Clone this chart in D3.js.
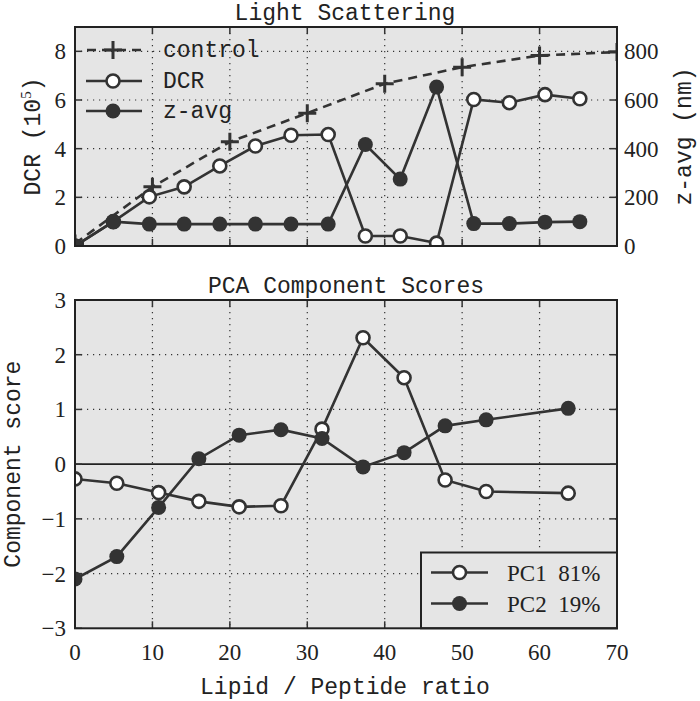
<!DOCTYPE html>
<html><head><meta charset="utf-8">
<script src="https://cdn.jsdelivr.net/npm/d3@7"></script>
<style>body{margin:0;background:#fff}</style>
</head><body><svg id="c" width="700" height="701"></svg>
<script>
// ---- data ----
const controlX = [0,10,20,30,40,50,60,70];
const controlY = [0.1,2.43,4.28,5.46,6.67,7.35,7.83,7.97];
const lsX  = [0,4.95,9.6,14.1,18.7,23.3,27.9,32.7,37.5,42,46.7,51.5,56.1,60.7,65.2];
const dcrY = [0,1.0,2.02,2.43,3.29,4.11,4.55,4.58,0.41,0.41,0.12,6.02,5.89,6.22,6.05];
const zavgY= [0,100,90,90,90,90,90,90,417,275,653,92,92,98,100];
const pcaX = [0,5.4,10.8,16.0,21.2,26.6,31.9,37.2,42.5,47.8,53.1,63.7];
const pc1  = [-0.27,-0.35,-0.52,-0.68,-0.78,-0.76,0.64,2.31,1.58,-0.29,-0.5,-0.53];
const pc2  = [-2.1,-1.69,-0.79,0.1,0.53,0.63,0.47,-0.05,0.21,0.70,0.81,1.02];
const xTicks = [0,10,20,30,40,50,60,70];
const dcrTicks = [0,2,4,6,8];
const zTicks = [0,200,400,600,800];
const pcaTicks = [-3,-2,-1,0,1,2,3];
const topLegend = ["control","DCR","z-avg"];
const pcaLegend = ["PC1 81%","PC2 19%"];

const svg = d3.select("#c");
const ink = "#333";
const serif = "'Liberation Serif','DejaVu Serif',serif";
const mono = "'Liberation Mono','DejaVu Sans Mono',monospace";
const MS = 23;
const L = 75, R = 617;
const x = d3.scaleLinear().domain([0,70]).range([L,R]);

function panel(id, top, bottom){
  svg.append("rect").attr("x",L).attr("y",top).attr("width",R-L).attr("height",bottom-top).attr("fill","#e5e5e5");
  svg.append("clipPath").attr("id",id).append("rect").attr("x",L).attr("y",top).attr("width",R-L).attr("height",bottom-top);
}
function vgrid(top,bottom){
  svg.append("g").selectAll("line").data(xTicks.filter(t=>t>0&&t<70)).join("line")
    .attr("x1",d=>x(d)).attr("x2",d=>x(d)).attr("y1",top).attr("y2",bottom)
    .attr("stroke",ink).attr("stroke-width",1.2).attr("stroke-dasharray","1.2,4.8");
}
function hgrid(y, ticks){
  svg.append("g").selectAll("line").data(ticks).join("line")
    .attr("x1",L).attr("x2",R).attr("y1",d=>y(d)).attr("y2",d=>y(d))
    .attr("stroke",ink).attr("stroke-width",1.2).attr("stroke-dasharray","1.2,4.8");
}
function ticksX(top,bottom){
  const g = svg.append("g");
  xTicks.filter(t=>t>0&&t<70).forEach(t=>{
    g.append("line").attr("x1",x(t)).attr("x2",x(t)).attr("y1",bottom).attr("y2",bottom-7).attr("stroke",ink).attr("stroke-width",1.5);
    g.append("line").attr("x1",x(t)).attr("x2",x(t)).attr("y1",top).attr("y2",top+7).attr("stroke",ink).attr("stroke-width",1.5);
  });
}
function ticksY(y, ticks, side){
  const g = svg.append("g");
  ticks.forEach(t=>{
    if(side!=="right") g.append("line").attr("x1",L).attr("x2",L+7).attr("y1",y(t)).attr("y2",y(t)).attr("stroke",ink).attr("stroke-width",1.5);
    if(side!=="left") g.append("line").attr("x1",R).attr("x2",R-7).attr("y1",y(t)).attr("y2",y(t)).attr("stroke",ink).attr("stroke-width",1.5);
  });
}
function frame(top,bottom){
  svg.append("rect").attr("x",L).attr("y",top).attr("width",R-L).attr("height",bottom-top)
    .attr("fill","none").attr("stroke","#222").attr("stroke-width",2);
}
function fmt(v){ return v<0 ? "\u2212"+Math.abs(v) : String(v); }
function markerCircle(g, cx, cy, filled){
  g.append("circle").attr("cx",cx).attr("cy",cy).attr("r",filled?7.5:6.5)
   .attr("fill",filled?ink:"#fff").attr("stroke",ink).attr("stroke-width",filled?0:2.6);
}
function series(clip, xs, ys, yScale, filled){
  const g = svg.append("g").attr("clip-path",`url(#${clip})`);
  g.append("path").datum(xs.map((d,i)=>[d,ys[i]]))
    .attr("d", d3.line().x(d=>x(d[0])).y(d=>yScale(d[1])))
    .attr("fill","none").attr("stroke",ink).attr("stroke-width",2.6);
  xs.forEach((d,i)=>markerCircle(g, x(d), yScale(ys[i]), filled));
}

// ===== Top panel =====
const T1 = 27, B1 = 246;
const yL = d3.scaleLinear().domain([0,9]).range([B1,T1]);
const yR = d3.scaleLinear().domain([0,900]).range([B1,T1]);
panel("clipTop", T1, B1);
vgrid(T1,B1);
hgrid(yL, dcrTicks.filter(t=>t>0));
ticksX(T1,B1);
ticksY(yL, dcrTicks, "left");
ticksY(yR, zTicks, "right");

{
  const g = svg.append("g").attr("clip-path","url(#clipTop)");
  g.append("path").datum(controlX.map((d,i)=>[d,controlY[i]]))
    .attr("d", d3.line().x(d=>x(d[0])).y(d=>yL(d[1])))
    .attr("fill","none").attr("stroke",ink).attr("stroke-width",2.6).attr("stroke-dasharray","9,6");
  controlX.forEach((d,i)=>{
    const cx=x(d), cy=yL(controlY[i]);
    g.append("path").attr("d",`M${cx-9},${cy}H${cx+9}M${cx},${cy-9}V${cy+9}`).attr("stroke",ink).attr("stroke-width",3);
  });
}
series("clipTop", lsX, dcrY, yL, false);
series("clipTop", lsX, zavgY, yR, true);
frame(T1,B1);

svg.append("g").selectAll("text").data(dcrTicks).join("text")
  .attr("x",66).attr("y",d=>yL(d)+8).attr("text-anchor","end")
  .attr("font-family",serif).attr("font-size",23).attr("fill","#222").text(d=>fmt(d));
svg.append("g").selectAll("text").data(zTicks).join("text")
  .attr("x",624).attr("y",d=>yR(d)+8).attr("text-anchor","start")
  .attr("font-family",serif).attr("font-size",23).attr("fill","#222").text(d=>fmt(d));
svg.append("text").attr("x",345).attr("y",20).attr("text-anchor","middle")
  .attr("font-family",mono).attr("font-size",MS).attr("fill","#222").text("Light Scattering");
{
  const t = svg.append("text").attr("transform",`translate(40,${(T1+B1)/2}) rotate(-90)`).attr("text-anchor","middle")
    .attr("font-family",mono).attr("font-size",MS).attr("fill","#222");
  t.append("tspan").text("DCR (10");
  t.append("tspan").attr("font-family",serif).attr("font-size",15).attr("dy",-9).text("5");
  t.append("tspan").attr("dy",9).text(")");
}
svg.append("text").attr("transform",`translate(691,${(T1+B1)/2}) rotate(-90)`).attr("text-anchor","middle")
  .attr("font-family",mono).attr("font-size",MS).attr("fill","#222").text("z-avg (nm)");

{
  const g = svg.append("g");
  const ys = [50,81,111];
  topLegend.forEach((name,i)=>{
    const y = ys[i];
    if(i===0){
      g.append("line").attr("x1",86).attr("x2",142).attr("y1",y).attr("y2",y).attr("stroke",ink).attr("stroke-width",2.6).attr("stroke-dasharray","9,6").attr("stroke-dashoffset",-1);
      g.append("path").attr("d",`M${113-9},${y}H${113+9}M113,${y-9}V${y+9}`).attr("stroke",ink).attr("stroke-width",3);
    } else {
      g.append("line").attr("x1",86).attr("x2",142).attr("y1",y).attr("y2",y).attr("stroke",ink).attr("stroke-width",2.6);
      markerCircle(g,113,y,i===2);
    }
    g.append("text").attr("x",163).attr("y",y+7).attr("font-family",mono).attr("font-size",MS).attr("fill","#222").text(name);
  });
}

// ===== Bottom panel =====
const T2 = 300, B2 = 628.3;
const yP = d3.scaleLinear().domain([-3,3]).range([B2,T2]);
panel("clipBot", T2, B2);
vgrid(T2,B2);
hgrid(yP, [-2,-1,1,2]);
svg.append("line").attr("x1",L).attr("x2",R).attr("y1",yP(0)).attr("y2",yP(0)).attr("stroke","#222").attr("stroke-width",1.6);
ticksX(T2,B2);
ticksY(yP, pcaTicks, "both");
series("clipBot", pcaX, pc1, yP, false);
series("clipBot", pcaX, pc2, yP, true);

{
  const g = svg.append("g");
  g.append("rect").attr("x",421).attr("y",552.5).attr("width",R-421).attr("height",B2-552.5)
    .attr("fill","#e5e5e5").attr("stroke","#222").attr("stroke-width",2);
  const ys=[572.5,603.5];
  pcaLegend.forEach((name,i)=>{
    const y=ys[i];
    g.append("line").attr("x1",431).attr("x2",488).attr("y1",y).attr("y2",y).attr("stroke",ink).attr("stroke-width",2.6);
    markerCircle(g,459.5,y,i===1);
    g.append("text").attr("x",507).attr("y",y+8).attr("font-family",serif).attr("font-size",23).attr("fill","#222")
      .style("white-space","pre").text(name.replace(" ","  "));
  });
}
frame(T2,B2);

svg.append("g").selectAll("text").data(pcaTicks).join("text")
  .attr("x",66).attr("y",d=>yP(d)+8).attr("text-anchor","end")
  .attr("font-family",serif).attr("font-size",23).attr("fill","#222").text(d=>fmt(d));
svg.append("g").selectAll("text").data(xTicks).join("text")
  .attr("x",d=>x(d)).attr("y",660).attr("text-anchor","middle")
  .attr("font-family",serif).attr("font-size",23).attr("fill","#222").text(d=>fmt(d));
svg.append("text").attr("x",346).attr("y",293).attr("text-anchor","middle")
  .attr("font-family",mono).attr("font-size",MS).attr("fill","#222").text("PCA Component Scores");
svg.append("text").attr("x",345).attr("y",694).attr("text-anchor","middle")
  .attr("font-family",mono).attr("font-size",MS).attr("fill","#222").text("Lipid / Peptide ratio");
svg.append("text").attr("transform",`translate(20,${(T2+B2)/2}) rotate(-90)`).attr("text-anchor","middle")
  .attr("font-family",mono).attr("font-size",MS).attr("fill","#222").text("Component score");
</script></body></html>
